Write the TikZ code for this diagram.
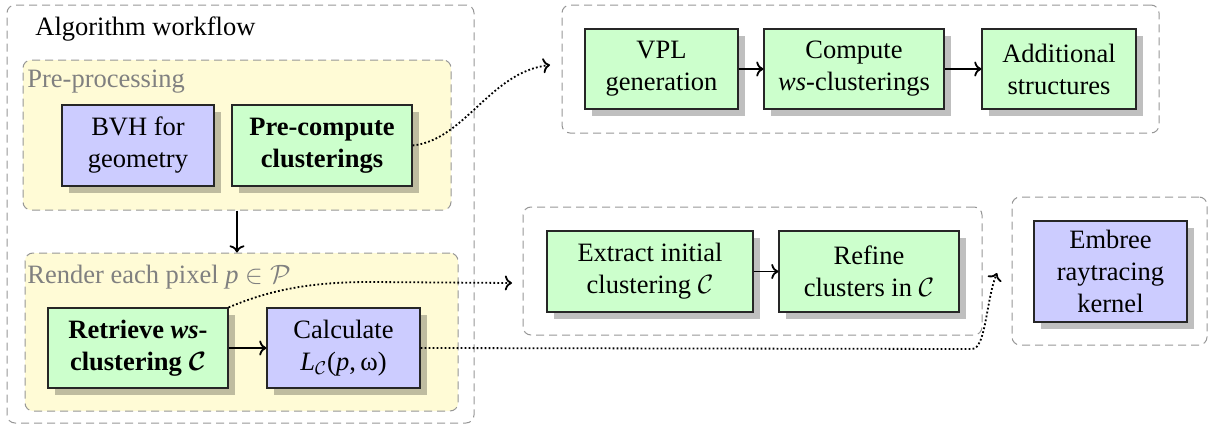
\RequirePackage{fix-cm}
\documentclass[tikz,border=0pt]{standalone}
\usepackage{fontspec}
\setmainfont{Liberation Serif}
\usetikzlibrary{shadows,arrows.meta}
\definecolor{greenfill}{RGB}{204,255,204}
\definecolor{bluefill}{RGB}{204,204,255}
\definecolor{yellowbg}{RGB}{255,251,214}
\definecolor{boxgray}{RGB}{150,150,150}
\definecolor{labelgray}{RGB}{128,128,128}
\tikzset{
  every node/.style={font=\rmfamily\fontsize{13.25}{16}\selectfont},
  procbox/.style={draw=black!85, line width=0.6pt, rectangle, align=center, inner sep=0pt,
    drop shadow={shadow xshift=3.25pt, shadow yshift=-3.25pt, fill=black, opacity=0.25}},
  greenbox/.style={procbox, fill=greenfill},
  bluebox/.style={procbox, fill=bluefill},
  groupbox/.style={draw=boxgray, line width=0.5pt, dash pattern=on 4pt off 2.5pt, rounded corners=4pt, rectangle, inner sep=0pt},
  flow/.style={->, line width=0.9pt},
  dotflow/.style={->, line width=0.9pt, dash pattern=on 0.9pt off 1.1pt},
  grouplabel/.style={anchor=base west, inner sep=0pt, text=labelgray},
}
\begin{document}
\begin{tikzpicture}[x=0.5pt, y=-0.5pt]
\useasboundingbox (0,0) rectangle (1210,428);
% group boxes
\node[groupbox, minimum width=233.5pt, minimum height=209pt] (outer) at (240.5,214) {};
\node[groupbox, fill=yellowbg, minimum width=214pt, minimum height=75pt] (prebox) at (237,135) {};
\node[groupbox, fill=yellowbg, minimum width=216.5pt, minimum height=79pt] (renbox) at (241.5,332) {};
\node[groupbox, minimum width=298.5pt, minimum height=64pt] (trbox) at (860.5,69) {};
\node[groupbox, minimum width=229.5pt, minimum height=64pt] (midbox) at (752.5,271) {};
\node[groupbox, minimum width=97.5pt, minimum height=74pt] (embbox) at (1109.5,271) {};
% labels
\node[anchor=base west, inner sep=0pt] (title) at (35,35) {Algorithm workflow};
\node[grouplabel] (prelabel) at (27,87) {Pre-processing};
\node[grouplabel] (renlabel) at (27,283) {Render each pixel \textit{p} $\in\mathcal{P}$};
% process nodes
\node[bluebox, minimum width=76pt, minimum height=40.5pt] (bvh) at (138,145.5) {BVH for\\geometry};
\node[greenbox, minimum width=90pt, minimum height=40.5pt] (pre) at (322,145.5) {\textbf{Pre-compute}\\\textbf{clusterings}};
\node[greenbox, minimum width=90pt, minimum height=40pt] (ret) at (138,348) {\textbf{Retrieve \textit{ws}-}\\\textbf{clustering} {\boldmath$\mathcal{C}$}};
\node[bluebox, minimum width=76.5pt, minimum height=40pt] (calc) at (343.5,348) {Calculate\\\textit{L}$_{\mathcal{C}}$(\textit{p},\,ω)};
\node[greenbox, minimum width=76.5pt, minimum height=40pt] (vpl) at (661.5,69) {VPL\\generation};
\node[greenbox, minimum width=90pt, minimum height=40pt] (comp) at (854,69) {Compute\\\textit{ws}-clusterings};
\node[greenbox, minimum width=77pt, minimum height=40pt] (add) at (1059,69) {Additional\\structures};
\node[greenbox, minimum width=103pt, minimum height=40.5pt] (ext) at (650,271.5) {Extract initial\\clustering $\mathcal{C}$};
\node[greenbox, minimum width=90pt, minimum height=40.5pt] (ref) at (869,271.5) {Refine\\clusters in $\mathcal{C}$};
\node[bluebox, minimum width=76.5pt, minimum height=50.5pt] (emb) at (1110.5,271.5) {Embree\\raytracing\\kernel};
% coordinates for free ends
\coordinate (e1) at (550,65);
\coordinate (e2) at (512,283);
\coordinate (e3) at (997,273);
% connectors
\draw[flow] (prebox.south) -- (prebox.south |- renbox.north);
\draw[flow] (ret) -- (calc);
\draw[flow] (vpl) -- (comp);
\draw[flow] (comp) -- (add);
\draw[flow] (ext) -- (ref);
\draw[dotflow] (pre.east) .. controls (465,140) and (490,72) .. (e1);
\draw[dotflow] (ret.north east) .. controls (270,290) and (310,282) .. (370,282) -- (e2);
\draw[dotflow] (calc.east) -- (972,349) .. controls (986,349) and (986,300) .. (e3);
\end{tikzpicture}
\end{document}
